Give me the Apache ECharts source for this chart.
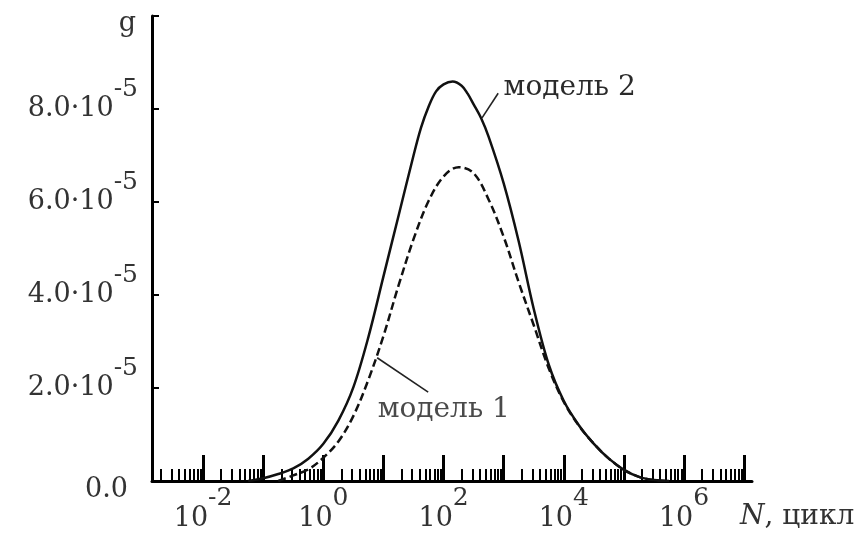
<!DOCTYPE html>
<html><head><meta charset="utf-8">
<script src="https://cdn.jsdelivr.net/npm/echarts@6/dist/echarts.min.js"></script>
<style>html,body{margin:0;padding:0;background:#fff}#c{width:862px;height:539px}</style>
</head><body><div id="c"></div>
<script>
// x values are log10(N); g values are in units of 1e-5
const model2LogN = [-1.25, -1.0, -0.75, -0.5, -0.25, 0.0, 0.25, 0.5, 0.75, 1.0, 1.25, 1.5, 1.625, 1.75, 1.875, 2.0, 2.15, 2.3, 2.4, 2.5, 2.625, 2.75, 3.0, 3.25, 3.5, 3.75, 4.0, 4.25, 4.5, 4.75, 5.0, 5.25, 5.5, 5.75];
const model2G    = [0.0, 0.06, 0.15, 0.27, 0.48, 0.80, 1.30, 2.02, 3.10, 4.40, 5.70, 7.00, 7.60, 8.05, 8.38, 8.53, 8.59, 8.50, 8.33, 8.10, 7.80, 7.40, 6.40, 5.15, 3.70, 2.50, 1.72, 1.20, 0.80, 0.48, 0.24, 0.09, 0.02, 0.0];
const model1LogN = [-0.75, -0.5, -0.25, 0.0, 0.25, 0.5, 0.75, 1.0, 1.25, 1.5, 1.75, 2.0, 2.25, 2.5, 2.75, 3.0, 3.25, 3.5, 3.75, 4.0, 4.25, 4.5, 4.75, 5.0, 5.25, 5.5, 5.75];
const model1G    = [0.0, 0.12, 0.25, 0.50, 0.85, 1.40, 2.18, 3.12, 4.20, 5.20, 6.02, 6.55, 6.75, 6.62, 6.05, 5.25, 4.27, 3.35, 2.42, 1.70, 1.19, 0.80, 0.48, 0.24, 0.09, 0.02, 0.0];

const xMin = -2.85, xMax = 7.13;
const xMajorTicks = [-2, -1, 0, 1, 2, 3, 4, 5, 6, 7];
const xLabelExps = [-2, 0, 2, 4, 6];
const minorMultiples = [2, 3, 4, 5, 6, 7, 8, 9];
const yTickValues = [0, 2, 4, 6, 8, 10];
const yTickLabels = ['0.0', '2.0', '4.0', '6.0', '8.0', ''];
const yExp = '-5';
const xName = ['N', ', цикл'];
const yName = 'g';
const notes = [
  {name: 'модель 2', from: [2.64, 7.81], to: [2.908, 8.34], at: [2.99, 8.45], color: '#2a2a2a'},
  {name: 'модель 1', from: [0.895, 2.65], to: [1.744, 1.91], at: [0.895, 1.53], color: '#4a4a4a'}
];

const minorTicks = [];
for (let d = -3; d <= 7; d++) {
  minorMultiples.forEach(k => {
    const v = d + Math.log10(k);
    if (v >= xMin && v <= xMax) minorTicks.push(v);
  });
}

const FONT = 'DejaVu Serif';
const TXT = '#333';
const rich = {
  b: {fontFamily: FONT, fontSize: 27, color: TXT},
  s: {fontFamily: FONT, fontSize: 25, color: TXT, padding: [0, 0, 40, 0]},
  z: {fontFamily: FONT, fontSize: 27, color: TXT, padding: [18, 10, 0, 0]}
};

const zip = (a, b) => a.map((v, i) => [v, b[i]]);

const chart = echarts.init(document.getElementById('c'), null, {renderer: 'canvas'});
chart.setOption({
  animation: false,
  backgroundColor: '#fff',
  grid: {left: 152, right: 110, top: 16, bottom: 58, containLabel: false, outerBoundsMode: 'none'},
  xAxis: [{
    type: 'value', position: 'bottom', min: xMin, max: xMax,
    name: '{i|' + xName[0] + '}{n|' + xName[1] + '}', nameLocation: 'end', nameGap: -12,
    nameTextStyle: {verticalAlign: 'top', padding: [22, 0, 0, 0],
      rich: {i: {fontFamily: FONT, fontStyle: 'italic', fontSize: 28, color: TXT},
             n: {fontFamily: FONT, fontSize: 28, color: TXT}}},
    axisLine: {onZero: false, lineStyle: {color: '#000', width: 3}},
    axisTick: {show: true, inside: true, length: 26, customValues: xMajorTicks, lineStyle: {color: '#000', width: 3}},
    axisLabel: {show: true, margin: 5, customValues: xLabelExps,
      formatter: v => '{b|10}{s|' + Math.round(v) + '}', rich: rich},
    splitLine: {show: false}
  }, {
    type: 'value', position: 'bottom', offset: 0, min: xMin, max: xMax,
    axisLine: {show: false, onZero: false},
    axisTick: {show: true, inside: true, length: 12, customValues: minorTicks, lineStyle: {color: '#000', width: 2}},
    axisLabel: {show: false},
    splitLine: {show: false}
  }],
  yAxis: {
    type: 'value', min: 0, max: 10, interval: 2,
    name: yName, nameLocation: 'end', nameGap: -8,
    nameTextStyle: {fontFamily: FONT, fontSize: 27, color: TXT, align: 'right', verticalAlign: 'middle', padding: [0, 16, 0, 0]},
    axisLine: {onZero: false, lineStyle: {color: '#000', width: 3}},
    axisTick: {show: true, inside: true, length: 7, lineStyle: {color: '#000', width: 2}},
    axisLabel: {margin: 14, rich: rich,
      formatter: v => {
        const i = yTickValues.indexOf(v);
        const t = i >= 0 ? yTickLabels[i] : '';
        if (!t) return '';
        if (v === 0) return '{z|' + t + '}';
        return '{b|' + t + '·10}{s|' + yExp + '}';
      }},
    splitLine: {show: false}
  },
  series: [{
    name: 'модель 2', type: 'line', xAxisIndex: 0, smooth: 0.35, showSymbol: false,
    data: zip(model2LogN, model2G),
    lineStyle: {color: '#111', width: 2.5},
    markLine: {silent: true, symbol: ['none', 'none'], label: {show: false},
      lineStyle: {color: '#222', width: 1.6, type: 'solid'},
      data: [[{coord: notes[0].from}, {coord: notes[0].to}]]},
    markPoint: {silent: true, symbol: 'circle', symbolSize: 1, itemStyle: {color: 'rgba(0,0,0,0)'},
      data: [{coord: notes[0].at, label: {show: true, position: 'right', distance: 0, formatter: notes[0].name,
        fontFamily: FONT, fontSize: 28, color: notes[0].color}}]}
  }, {
    name: 'модель 1', type: 'line', xAxisIndex: 0, smooth: 0.35, showSymbol: false,
    data: zip(model1LogN, model1G),
    lineStyle: {color: '#111', width: 2.5, type: [8, 4]},
    markLine: {silent: true, symbol: ['none', 'none'], label: {show: false},
      lineStyle: {color: '#222', width: 1.6, type: 'solid'},
      data: [[{coord: notes[1].from}, {coord: notes[1].to}]]},
    markPoint: {silent: true, symbol: 'circle', symbolSize: 1, itemStyle: {color: 'rgba(0,0,0,0)'},
      data: [{coord: notes[1].at, label: {show: true, position: 'right', distance: 0, formatter: notes[1].name,
        fontFamily: FONT, fontSize: 28, color: notes[1].color}}]}
  }]
});
</script>
</body></html>
